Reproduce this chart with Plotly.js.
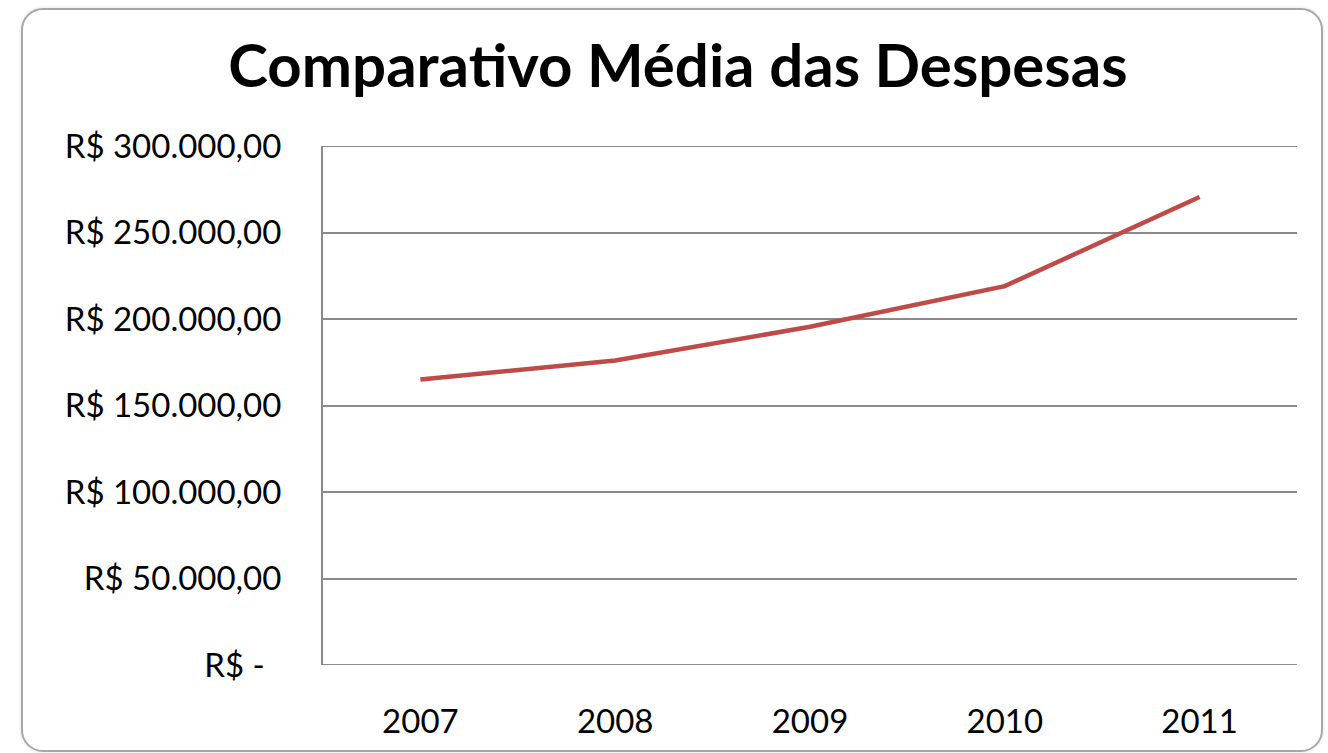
<!DOCTYPE html>
<html>
<head>
<meta charset="utf-8">
<script src="https://cdn.plot.ly/plotly-3.0.1.min.js"></script>
<style>
  html, body { margin:0; padding:0; background:#ffffff; overflow:hidden; }
  #frame { position:absolute; left:21px; top:8px; width:1302px; height:744px;
           border:2px solid #a8a8a8; border-radius:22px; box-sizing:border-box;
           box-shadow: 0 0 4px rgba(0,0,0,0.12); background:#fff; }
  #chart { position:absolute; left:0; top:0; width:1328px; height:753px; }
</style>
</head>
<body>
<div id="frame"></div>
<div id="chart"></div>
<script>
const years = ["2007", "2008", "2009", "2010", "2011"];
const despesas = [165000, 176000, 195500, 219000, 270500];
const yTickVals = [0, 50000, 100000, 150000, 200000, 250000, 300000];
const yTickText = ["R$ -\u2002", "R$ 50.000,00", "R$ 100.000,00", "R$ 150.000,00", "R$ 200.000,00", "R$ 250.000,00", "R$ 300.000,00"];

const font = "Lato, 'Open Sans', sans-serif";
const gridColor = '#8a8a8a';

// edge gridlines (min and max ticks) drawn as shapes, since Plotly hides grid at range edges
const edgeLines = [yTickVals[0], yTickVals[yTickVals.length - 1]].map(v => ({
  type: 'line', xref: 'paper', yref: 'y', x0: 0, x1: 1, y0: v, y1: v,
  line: { color: gridColor, width: 2 }, layer: 'below'
}));

Plotly.newPlot('chart', [{
  x: years,
  y: despesas,
  type: 'scatter',
  mode: 'lines',
  line: { color: '#BE4B48', width: 4.5 },
  hoverinfo: 'skip'
}], {
  width: 1328, height: 753,
  margin: { l: 323, r: 31, t: 146, b: 88 },
  paper_bgcolor: 'rgba(0,0,0,0)',
  plot_bgcolor: 'rgba(0,0,0,0)',
  showlegend: false,
  shapes: edgeLines,
  title: {
    text: 'Comparativo Média das Despesas',
    font: { family: font, size: 60, color: '#000', weight: 'bold' },
    x: 0.5105, xanchor: 'center', y: 0.913, yanchor: 'middle'
  },
  xaxis: {
    type: 'category',
    range: [-0.5, 4.5],
    showgrid: false,
    showline: false,
    zeroline: false,
    ticks: '',
    ticklabelstandoff: 34,
    tickfont: { family: font, size: 33, color: '#000' },
    fixedrange: true
  },
  yaxis: {
    range: [0, 300000],
    tickvals: yTickVals,
    ticktext: yTickText,
    showgrid: true,
    gridcolor: gridColor,
    gridwidth: 2,
    showline: true,
    linecolor: gridColor,
    linewidth: 2,
    zeroline: false,
    ticks: '',
    ticklabelstandoff: 33,
    tickfont: { family: font, size: 33, color: '#000' },
    fixedrange: true
  }
}, { displayModeBar: false, staticPlot: true });
</script>
</body>
</html>
